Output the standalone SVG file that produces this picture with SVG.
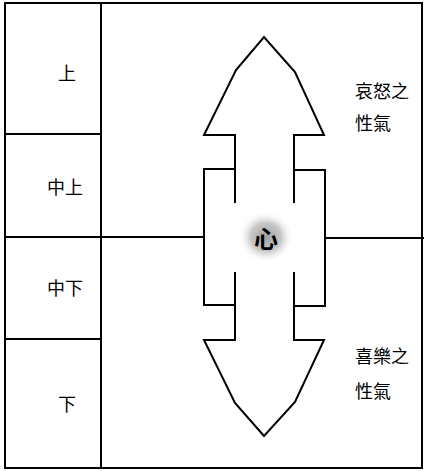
<svg xmlns="http://www.w3.org/2000/svg" width="424" height="471" viewBox="0 0 424 471">
<style>
.ln{fill:none;stroke:#000;stroke-width:2;stroke-linejoin:miter}
.t{font-family:"Noto Sans CJK TC","Noto Sans CJK SC",sans-serif;font-size:18px;fill:#000;dominant-baseline:central}
.big{font-size:24px;font-weight:bold}
</style>
<defs>
<radialGradient id="g" cx="0.5" cy="0.5" r="0.5">
<stop offset="0" stop-color="#888"/>
<stop offset="0.55" stop-color="#bbb"/>
<stop offset="1" stop-color="#fff" stop-opacity="0"/>
</radialGradient>
</defs>
<rect width="424" height="471" fill="#fff"/>
<g id="frame">
<rect class="ln" x="5" y="3" width="417" height="465"/>
<line class="ln" x1="101" y1="3" x2="101" y2="468"/>
</g>
<g id="level-top"><line class="ln" x1="5" y1="134" x2="101" y2="134"/><text class="t" x="58" y="72">上</text></g>
<g id="level-midtop"><line class="ln" x1="5" y1="237" x2="101" y2="237"/><text class="t" x="47" y="186">中上</text></g>
<g id="level-midbottom"><line class="ln" x1="5" y1="339" x2="101" y2="339"/><text class="t" x="47" y="287">中下</text></g>
<g id="level-bottom"><text class="t" x="58" y="403">下</text></g>
<g id="connectors">
<line class="ln" x1="101" y1="237" x2="204" y2="237"/>
<line class="ln" x1="325" y1="238" x2="424" y2="238"/>
</g>
<g id="arrow-up">
<polyline class="ln" points="235,203 235,135 204,135 236,70 264,37 295,72 324,135 294,135 294,203"/>
</g>
<g id="arrow-down">
<polyline class="ln" points="235,272 235,340 204,340 235,403 264,436 295,402 324,340 294,340 294,272"/>
</g>
<g id="heart">
<polyline class="ln" points="235,169 204,169 204,305 235,305"/>
<polyline class="ln" points="294,170 325,170 325,306 294,306"/>
<ellipse cx="266" cy="237" rx="28" ry="26" fill="url(#g)" opacity="0.8"/>
<text class="t big" x="266" y="237" text-anchor="middle">心</text>
</g>
<g id="label-anger">
<text class="t" x="355" y="90">哀怒之</text>
<text class="t" x="355" y="122">性氣</text>
</g>
<g id="label-joy">
<text class="t" x="355" y="355">喜樂之</text>
<text class="t" x="355" y="390">性氣</text>
</g>
</svg>
